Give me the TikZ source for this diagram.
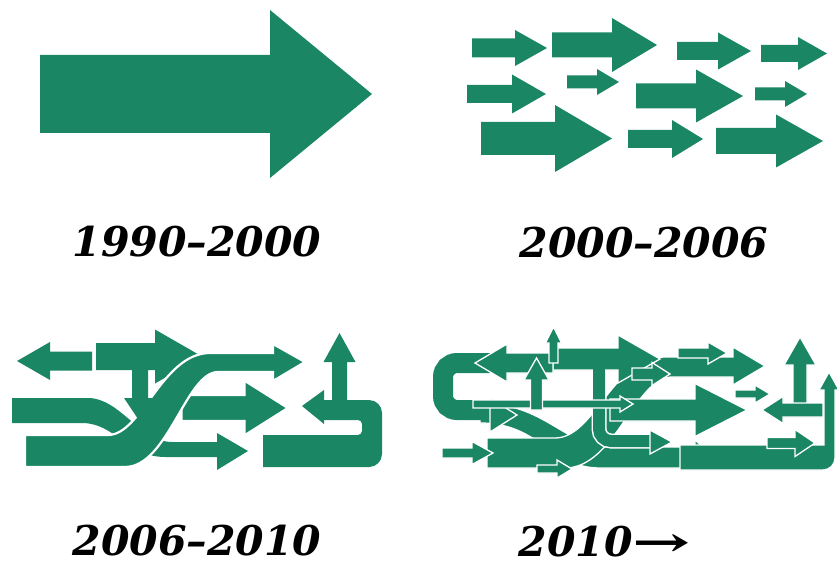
\documentclass[tikz,border=0pt]{standalone}
\usepackage{fontspec}
\usepackage{graphicx}
\newfontfamily\labfont{DejaVu Serif}
\definecolor{arrowgreen}{RGB}{26,134,100}
\tikzset{
  ar/.style={fill=arrowgreen},
  aro/.style={fill=arrowgreen, draw=white, line width=1.3pt, line join=miter},
  band/.style={draw=arrowgreen},
  lab/.style={font=\labfont\bfseries\itshape\fontsize{41}{45}\selectfont, text=black, inner sep=0pt, anchor=base, text depth=0pt}
}
% right/left arrow: x0 shaft start, x1 head base, tip x, yc, shaft half, head half
\newcommand\harr[7][ar]{\path[#1] ({#2},{#5-#6}) -- ({#3},{#5-#6}) -- ({#3},{#5-#7}) -- ({#4},{#5}) -- ({#3},{#5+#7}) -- ({#3},{#5+#6}) -- ({#2},{#5+#6}) -- cycle;}
% up/down arrow: y0 shaft start, y1 head base, tip y, xc, shaft half, head half
\newcommand\varr[7][ar]{\path[#1] ({#5-#6},{#2}) -- ({#5-#6},{#3}) -- ({#5-#7},{#3}) -- ({#5},{#4}) -- ({#5+#7},{#3}) -- ({#5+#6},{#3}) -- ({#5+#6},{#2}) -- cycle;}
\begin{document}
\begin{tikzpicture}[x=1pt,y=-1pt]
\useasboundingbox (0,0) rectangle (837,569);
\fill[white] (0,0) rectangle (837,569);
% ---------- panel 1
\harr{40}{270}{372}{94}{39}{84}
% ---------- panel 2
\harr{472}{515}{547}{48}{9.5}{18}
\harr{552}{612}{657}{45}{12.5}{27}
\harr{677}{718}{751}{51}{9}{18.5}
\harr{761}{798}{827}{53.5}{8.5}{16.5}
\harr{467}{512}{546}{94}{9}{19.5}
\harr{567}{597}{619}{82}{6.5}{13}
\harr{636}{696}{743}{96}{12.5}{26.5}
\harr{755}{785}{807}{94}{6.5}{13}
\harr{481}{555}{612}{138.5}{16.5}{33.5}
\harr{628}{672}{703}{139}{9}{19}
\harr{716}{776}{823}{141}{13}{26.5}
% ---------- panel 3
\harr{92}{50}{17}{361}{9.5}{19}
\harr{96}{155}{202}{356.5}{13.5}{27}
% band A
\path[ar] (12,398) -- (88,398) .. controls (120,398) and (140,442) .. (172,442) -- (217,442) -- (217,433) -- (248,451) -- (217,470) -- (217,457) -- (165,457) .. controls (128,457) and (115,423) .. (82,423) -- (12,423) -- cycle;
% middle arrow
\harr[aro]{182}{245}{287}{408}{12.5}{26.5}
% band B
\path[aro, line width=2.2pt] (25,435) -- (108,435) .. controls (142,435) and (162,353) .. (210,353) -- (273,353) -- (273,344) -- (305,362) -- (273,381) -- (273,372) -- (218,372) .. controls (186,372) and (168,467) .. (125,467) -- (25,467) -- cycle;
\varr{368}{398}{422}{140}{8}{16}
% U loop
\path[ar] (263,435) -- (263,467) [rounded corners=13] -- (382,467) -- (382,400) [sharp corners] -- (322,400) -- (322,420) [rounded corners=4] -- (362,420) -- (362,435) [sharp corners] -- cycle;
\path[ar] (324,390) -- (302,406) -- (324,424) -- cycle;
\varr{402}{362}{333}{339.5}{7.5}{16}
% ---------- panel 4
% band A'
\path[aro] (480,403) .. controls (545,403) and (565,447) .. (610,447) -- (695,447) -- (695,440) -- (712,455) -- (695,470) -- (695,468) -- (600,468) .. controls (550,468) and (540,423) .. (480,423) -- cycle;
% C band
\draw[band, line width=20pt, rounded corners=14] (490,363) -- (443,363) -- (443,410) -- (492,410);
\path[aro] (490,398) -- (517,415) -- (490,432) -- cycle;
% bottom long band with right up arrow
\path[aro] (680,445) -- (824,445) -- (824,390) -- (819,390) -- (829,372) -- (839,390) -- (835,390) [rounded corners=12] -- (835,470) [sharp corners] -- (680,470) -- cycle;
% band B'
\path[aro] (487,438) -- (555,438) .. controls (595,438) and (612,357) .. (665,357) -- (733,357) -- (733,347) -- (765,366) -- (733,385) -- (733,377) -- (672,377) .. controls (635,377) and (615,468) .. (565,468) -- (487,468) -- cycle;
% middle arrow
\harr[aro]{610}{695}{747}{410}{11}{26.5}
% L band
\draw[white, line width=15pt, rounded corners=12] (599,372) -- (599,441) -- (652,441);
\draw[band, line width=12pt, rounded corners=12] (599,372) -- (599,441) -- (652,441);
\path[aro] (650,430) -- (672,442) -- (650,454) -- cycle;
% top big arrow and stem
\harr[aro]{553}{618}{660}{359}{11}{24}
\fill[arrowgreen] (593,369) rectangle (605,380);
% left arrow on C top
\harr[aro]{553}{507}{475}{363}{10}{19}
% thin arrow
\harr[aro]{473}{620}{633}{404}{4}{8}
% up arrows
\varr[aro]{410}{380}{358}{536.5}{6}{12.5}
\varr[aro]{363}{343}{327}{553.5}{4.5}{8}
% small arrows
\harr[aro]{632}{652}{670}{374}{6}{11.5}
\harr[aro]{678}{708}{727}{353}{5}{11}
\harr[aro]{735}{755}{770}{394}{4}{9}
\harr[aro]{442}{472}{493}{453}{5}{11.5}
\harr[aro]{537}{557}{572}{469}{4}{9}
% right cluster
\varr[aro]{405}{365}{337}{800}{7}{16}
\harr[aro]{823}{783}{762}{410}{7}{13.5}
\harr[aro]{767}{795}{815}{443}{5.5}{13.5}
% ---------- labels
\node[lab] (l1) at (197,256) {1990–2000};
\node[lab] (l2) at (644,258) {2000–2006};
\node[lab] (l3) at (197,555) {2006–2010};
\node[lab] (l4) at (605,556) {2010\scalebox{1.7}[1]{→}};
\end{tikzpicture}
\end{document}
